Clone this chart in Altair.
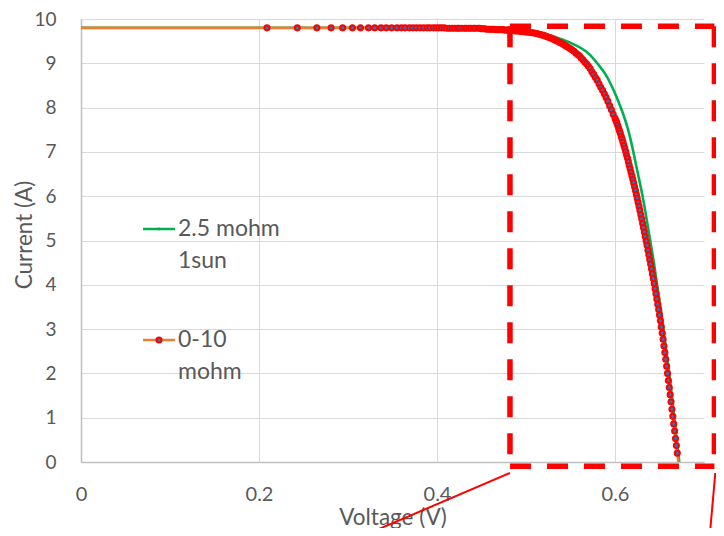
import altair as alt
import pandas as pd

# ---- series "2.5 mohm 1sun" (green) ----
g_v = [0.0, 0.10, 0.20, 0.30, 0.40, 0.45, 0.48, 0.50, 0.515, 0.532, 0.5525, 0.5713, 0.580,
       0.5894, 0.596, 0.602, 0.6065, 0.6108, 0.615, 0.6182, 0.6205, 0.6237, 0.6271, 0.6306,
       0.6339, 0.6371, 0.6405, 0.6439, 0.6471, 0.6507, 0.6542, 0.658, 0.6619, 0.6656,
       0.6693, 0.6722]
g_i = [9.80, 9.80, 9.80, 9.80, 9.80, 9.79, 9.77, 9.74, 9.70, 9.60, 9.44, 9.20, 9.00,
       8.75, 8.50, 8.23, 8.00, 7.76, 7.48, 7.22, 7.01, 6.70, 6.38, 6.04,
       5.68, 5.29, 4.89, 4.47, 4.03, 3.56, 3.05, 2.47, 1.84, 1.19,
       0.53, 0.00]

# ---- series "0-10 mohm" (orange line, blue/red markers) ----
o_v = [0.0,
       0.209, 0.243, 0.265, 0.281, 0.294, 0.305, 0.314, 0.323, 0.330, 0.337, 0.343, 0.349,
       0.355, 0.360, 0.364, 0.369, 0.373, 0.377, 0.381, 0.385, 0.389, 0.392, 0.396, 0.399,
       0.402, 0.405, 0.408, 0.411, 0.414, 0.417, 0.420, 0.423, 0.425, 0.428, 0.431, 0.433,
       0.436, 0.438, 0.441, 0.443, 0.446, 0.448,
       0.450, 0.452, 0.454, 0.456, 0.458, 0.460, 0.462, 0.464, 0.466, 0.468, 0.470, 0.472,
       0.474, 0.476, 0.478, 0.480, 0.482, 0.484, 0.486, 0.488, 0.490, 0.492, 0.494, 0.496,
       0.498, 0.500, 0.502, 0.504, 0.506, 0.508, 0.510, 0.512, 0.514, 0.516, 0.518, 0.520,
       0.522, 0.524, 0.526, 0.528, 0.530, 0.532, 0.534, 0.536, 0.538, 0.540, 0.542, 0.544,
       0.546, 0.548, 0.550, 0.552, 0.554, 0.556, 0.558, 0.560, 0.562, 0.564, 0.566, 0.568,
       0.570, 0.572, 0.574, 0.576, 0.578, 0.580, 0.582, 0.584, 0.586, 0.588, 0.590, 0.592,
       0.594, 0.596, 0.598,
       0.600, 0.601, 0.602, 0.603, 0.604, 0.605, 0.606, 0.607, 0.608, 0.609, 0.610, 0.611,
       0.612, 0.613, 0.614, 0.615, 0.616, 0.617, 0.618, 0.619, 0.620, 0.621, 0.622, 0.623,
       0.624, 0.625, 0.626, 0.627, 0.628, 0.629, 0.630, 0.631, 0.632, 0.633, 0.634, 0.635,
       0.636, 0.637, 0.638, 0.639, 0.640, 0.641, 0.642, 0.643, 0.644, 0.645, 0.646, 0.647,
       0.648, 0.649, 0.650, 0.651, 0.652, 0.653, 0.654, 0.655, 0.656, 0.657, 0.658, 0.659,
       0.660, 0.661, 0.662, 0.663, 0.664, 0.665, 0.666, 0.667, 0.668, 0.669, 0.670, 0.6712]
o_i = [9.80,
       9.80, 9.80, 9.80, 9.80, 9.80, 9.80, 9.80, 9.80, 9.80, 9.80, 9.80, 9.80,
       9.80, 9.80, 9.80, 9.80, 9.80, 9.80, 9.80, 9.80, 9.80, 9.80, 9.80, 9.80,
       9.80, 9.80, 9.80, 9.79, 9.79, 9.79, 9.79, 9.79, 9.79, 9.79, 9.79, 9.79,
       9.79, 9.79, 9.79, 9.79, 9.79, 9.79,
       9.78, 9.78, 9.78, 9.77, 9.77, 9.77, 9.77, 9.77, 9.76, 9.76, 9.76, 9.76,
       9.76, 9.75, 9.75, 9.75, 9.75, 9.74, 9.74, 9.73, 9.73, 9.73, 9.72, 9.72,
       9.71, 9.71, 9.70, 9.70, 9.69, 9.69, 9.68, 9.67, 9.66, 9.65, 9.64, 9.63,
       9.61, 9.60, 9.58, 9.57, 9.55, 9.53, 9.51, 9.49, 9.47, 9.45, 9.43, 9.40,
       9.38, 9.35, 9.33, 9.30, 9.27, 9.23, 9.20, 9.17, 9.12, 9.08, 9.03, 8.99,
       8.94, 8.88, 8.81, 8.75, 8.68, 8.62, 8.54, 8.46, 8.39, 8.31, 8.23, 8.14,
       8.04, 7.95, 7.85,
       7.76, 7.71, 7.66, 7.60, 7.54, 7.48, 7.42, 7.35, 7.29, 7.22, 7.15, 7.08,
       7.01, 6.93, 6.86, 6.78, 6.70, 6.62, 6.54, 6.46, 6.38, 6.30, 6.21, 6.13,
       6.04, 5.95, 5.86, 5.77, 5.68, 5.58, 5.49, 5.39, 5.29, 5.19, 5.09, 4.99,
       4.89, 4.78, 4.68, 4.57, 4.47, 4.36, 4.25, 4.14, 4.03, 3.91, 3.80, 3.68,
       3.56, 3.44, 3.32, 3.19, 3.05, 2.91, 2.77, 2.62, 2.47, 2.32, 2.16, 2.00,
       1.84, 1.68, 1.52, 1.36, 1.19, 1.03, 0.86, 0.70, 0.53, 0.37, 0.20, 0.00]

# ---- zoom-box annotation (data units) ----
box_v = [0.482, 0.7117]
box_i = [-0.097, 9.835]
lead_v1 = [0.482, 0.7127]
lead_i1 = [-0.249, -0.249]
lead_v2 = [0.308, 0.7061]
lead_i2 = [-1.742, -1.742]

x_ticks = [0, 0.2, 0.4, 0.6]
y_ticks = list(range(0, 11))

FONT = "Lato"
TXT = "#595959"

green_df = pd.DataFrame({"V": g_v, "I": g_i})
orange_df = pd.DataFrame({"V": o_v, "I": o_i})
box_df = pd.DataFrame({
    "V": [box_v[0], box_v[0], box_v[0], box_v[1]],
    "V2": [box_v[0], box_v[1], box_v[1], box_v[1]],
    "I": [box_i[1], box_i[1], box_i[0], box_i[1]],
    "I2": [box_i[0], box_i[1], box_i[0], box_i[0]],
})
lead_df = pd.DataFrame({"V": lead_v1, "I": lead_i1, "V2": lead_v2, "I2": lead_i2})
one = pd.DataFrame({"a": [0]})

xs = alt.Scale(domain=[0, 0.7], nice=False, zero=False)
ys = alt.Scale(domain=[0, 10], nice=False, zero=False)
xa = alt.Axis(values=x_ticks, format="~g", title="Voltage (V)", grid=True,
              gridColor="#D9D9D9", gridWidth=1, domainColor="#BFBFBF", domainWidth=1.5,
              ticks=False, tickSize=0, labelFont=FONT, labelFontSize=20, labelColor=TXT,
              labelPadding=32, labelBaseline="middle", labelFlush=False,
              titleFont=FONT, titleFontSize=22.5, titleColor=TXT, titleFontWeight="normal",
              titleBaseline="alphabetic", titleY=62)
ya = alt.Axis(values=y_ticks, format="d", title="Current (A)", grid=True,
              gridColor="#D9D9D9", gridWidth=1, domainColor="#BFBFBF", domainWidth=1.5,
              ticks=False, tickSize=0, labelFont=FONT, labelFontSize=19, labelColor=TXT,
              labelPadding=25, labelFlush=False,
              titleFont=FONT, titleFontSize=22.5, titleColor=TXT, titleFontWeight="normal",
              titleBaseline="alphabetic", titleX=-50, titleY=215.5, titleAngle=270)

X = alt.X("V:Q", scale=xs, axis=xa)
Y = alt.Y("I:Q", scale=ys, axis=ya)

green = alt.Chart(green_df).mark_line(color="#00B050", strokeWidth=2.6, interpolate="monotone").encode(
    x=X, y=Y, order="V:Q")
orange = alt.Chart(orange_df).mark_line(color="#ED7D31", strokeWidth=2.5).encode(x=X, y=Y, order="V:Q")
markers = alt.Chart(orange_df).transform_filter("datum.V > 0 && datum.I > 0").mark_point(
    shape="circle", fill="#2E75B6", stroke="#FF0000", fillOpacity=1, strokeOpacity=1,
    strokeWidth=2, size=26, opacity=1).encode(x=X, y=Y)

box = alt.Chart(box_df).mark_rule(color="#FF0000", strokeWidth=5.5, strokeDash=[21, 16]).encode(
    x=X, x2="V2:Q", y=Y, y2="I2:Q")
lead = alt.Chart(lead_df).mark_rule(color="#FF0000", strokeWidth=2).encode(
    x=X, x2="V2:Q", y=Y, y2="I2:Q")

def txt(s, x, y):
    return alt.Chart(one).mark_text(align="left", baseline="middle", font=FONT, fontSize=23,
                                    color=TXT).encode(x=alt.value(x), y=alt.value(y), text=alt.value(s))

leg_g_line = alt.Chart(one).mark_rule(color="#00B050", strokeWidth=2.5).encode(
    x=alt.value(62), x2=alt.value(94), y=alt.value(210))
leg_g_dot = alt.Chart(one).mark_point(shape="circle", filled=True, color="#00B050", size=8, opacity=1).encode(
    x=alt.value(78), y=alt.value(210))
leg_o_line = alt.Chart(one).mark_rule(color="#ED7D31", strokeWidth=2.5).encode(
    x=alt.value(62), x2=alt.value(94), y=alt.value(321))
leg_o_dot = alt.Chart(one).mark_point(shape="circle", fill="#2E75B6", stroke="#FF0000", fillOpacity=1,
                                      strokeWidth=2, size=26, opacity=1).encode(
    x=alt.value(78), y=alt.value(321))

chart = alt.layer(
    green, orange, markers, box, lead,
    leg_g_line, leg_g_dot, txt("2.5 mohm", 97, 210), txt("1sun", 97, 241.7),
    leg_o_line, leg_o_dot, txt("0-10", 97, 321), txt("mohm", 97, 353.4),
).properties(
    width=623, height=443,
    autosize=alt.AutoSizeParams(type="none"),
    padding={"left": 73, "top": 11, "right": 12, "bottom": 66},
).configure_view(stroke="transparent")

chart.save("out.html", embed_options={"renderer": "svg", "actions": False})
